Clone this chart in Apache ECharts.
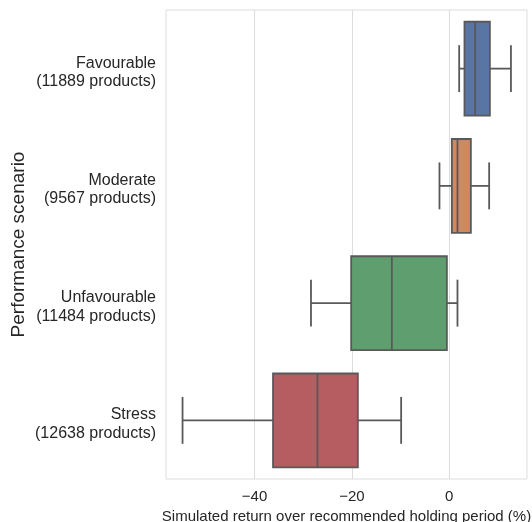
<!DOCTYPE html>
<html>
<head>
<meta charset="utf-8">
<script src="https://cdn.jsdelivr.net/npm/echarts@6/dist/echarts.min.js"></script>
<style>
html,body{margin:0;padding:0;background:#fff;}
#chart{width:532px;height:522px;}
</style>
</head>
<body>
<div id="chart"></div>
<script>
const categories = ['Favourable\n(11889 products)', 'Moderate\n(9567 products)', 'Unfavourable\n(11484 products)', 'Stress\n(12638 products)'];
const whiskerLow = [2.06, -1.99, -28.4, -54.8];
const q1 = [3.15, 0.55, -20.14, -36.2];
const median = [5.34, 1.71, -11.78, -27.07];
const q3 = [8.37, 4.46, -0.47, -18.77];
const whiskerHigh = [12.7, 8.22, 1.71, -9.87];
const tickValues = [-40, -20, 0];
const colors = ['#5875a4', '#cc8963', '#5f9e6e', '#b55d60'];

const lineColor = '#595959';
const textColor = '#262626';
const font = '"Liberation Sans", Arial, sans-serif';

const data = categories.map((c, i) => [i, whiskerLow[i], q1[i], median[i], q3[i], whiskerHigh[i]]);

const chart = echarts.init(document.getElementById('chart'));
chart.setOption({
  animation: false,
  backgroundColor: '#fff',
  grid: { left: 166, right: 5, top: 10, bottom: 43, show: true, borderColor: '#dddddd', borderWidth: 1, outerBoundsMode: 'none', containLabel: false },
  xAxis: {
    type: 'value',
    min: -58.2,
    max: 16.0,
    name: 'Simulated return over recommended holding period (%)',
    nameLocation: 'middle',
    nameGap: 30,
    nameTextStyle: { fontSize: 15, color: textColor, fontFamily: font },
    axisLine: { show: false },
    axisTick: { show: false, customValues: tickValues },
    axisLabel: {
      customValues: tickValues,
      fontSize: 15, color: textColor, fontFamily: font, margin: 10,
      formatter: v => String(v).replace('-', '\u2212')
    },
    splitLine: { show: true, lineStyle: { color: '#dddddd', width: 1 } }
  },
  yAxis: {
    type: 'category',
    data: categories,
    inverse: true,
    name: 'Performance scenario',
    nameLocation: 'middle',
    nameGap: 138,
    nameMoveOverlap: false,
    nameRotate: 90,
    nameTextStyle: { fontSize: 19, color: textColor, fontFamily: font },
    axisLine: { show: false },
    axisTick: { show: false },
    splitLine: { show: false },
    axisLabel: {
      fontSize: 16, color: textColor, fontFamily: font, margin: 10, align: 'right',
      formatter: function (v) {
        const parts = v.split('\n');
        return '{a|' + parts[0] + '}\n{b|' + parts[1] + '}';
      },
      rich: {
        a: { fontSize: 16, color: textColor, fontFamily: font, lineHeight: 26, align: 'right' },
        b: { fontSize: 16, color: textColor, fontFamily: font, lineHeight: 11, align: 'right' }
      }
    }
  },
  series: [{
    type: 'custom',
    data: data,
    encode: { x: [1, 2, 3, 4, 5], y: 0 },
    renderItem: function (params, api) {
      const cat = api.value(0);
      const pLow = api.coord([api.value(1), cat]);
      const pQ1 = api.coord([api.value(2), cat]);
      const pMed = api.coord([api.value(3), cat]);
      const pQ3 = api.coord([api.value(4), cat]);
      const pHigh = api.coord([api.value(5), cat]);
      const band = api.size([0, 1])[1];
      const bh = band * 0.8;
      const cap = band * 0.4;
      const y = pMed[1];
      const ls = { stroke: lineColor, lineWidth: 1.8 };
      return {
        type: 'group',
        children: [
          { type: 'line', shape: { x1: pLow[0], y1: y, x2: pQ1[0], y2: y }, style: ls },
          { type: 'line', shape: { x1: pQ3[0], y1: y, x2: pHigh[0], y2: y }, style: ls },
          { type: 'line', shape: { x1: pLow[0], y1: y - cap / 2, x2: pLow[0], y2: y + cap / 2 }, style: ls },
          { type: 'line', shape: { x1: pHigh[0], y1: y - cap / 2, x2: pHigh[0], y2: y + cap / 2 }, style: ls },
          { type: 'rect', shape: { x: pQ1[0], y: y - bh / 2, width: pQ3[0] - pQ1[0], height: bh },
            style: { fill: colors[params.dataIndex], stroke: lineColor, lineWidth: 1.8 } },
          { type: 'line', shape: { x1: pMed[0], y1: y - bh / 2, x2: pMed[0], y2: y + bh / 2 }, style: ls }
        ]
      };
    }
  }]
});
</script>
</body>
</html>
